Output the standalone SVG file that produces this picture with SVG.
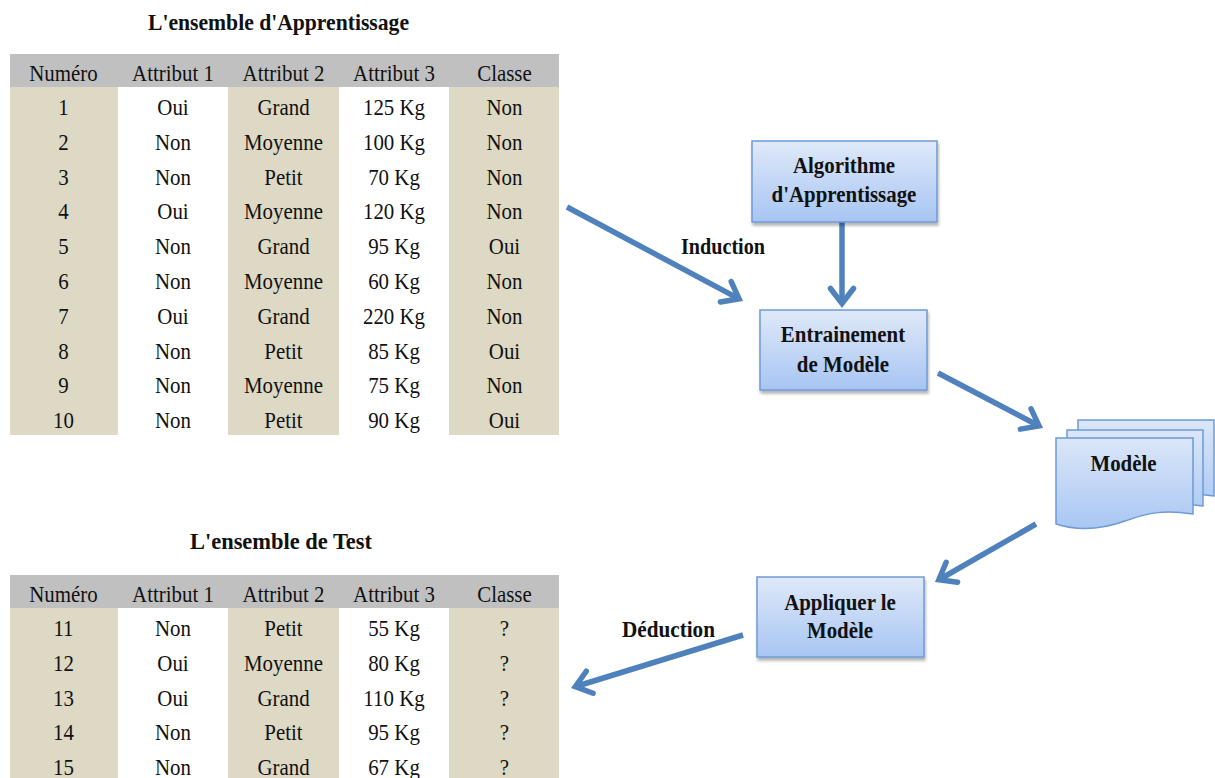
<svg xmlns="http://www.w3.org/2000/svg" width="1215" height="778" viewBox="0 0 1215 778">
  <style>
    .cell { font-family: "Liberation Serif", "Times New Roman", serif; font-size: 23.5px; fill: #111; text-anchor: middle; }
    .bold { font-family: "Liberation Serif", "Times New Roman", serif; font-size: 23.5px; font-weight: bold; fill: #111; text-anchor: middle; }
    .hdr { fill: #c0c0c0; }
    .tan { fill: #ddd9c4; }
    .box { fill: url(#boxFill); stroke: #6c9bd6; stroke-width: 1.5; filter: url(#shadow); }
    .page { fill: url(#pageFill); stroke: #6c9bd6; stroke-width: 1.5; }
    .flow { fill: none; stroke: #4f81bd; stroke-width: 5.5; marker-end: url(#chevron); }
  </style>
  <defs>
    <linearGradient id="boxFill" x1="0" y1="0" x2="0" y2="1">
      <stop offset="0" stop-color="#dfe9f9"/>
      <stop offset="1" stop-color="#a7c5f3"/>
    </linearGradient>
    <linearGradient id="pageFill" x1="0" y1="0" x2="0" y2="1">
      <stop offset="0" stop-color="#dbe6f8"/>
      <stop offset="1" stop-color="#a9c7f3"/>
    </linearGradient>
    <filter id="shadow" x="-10%" y="-10%" width="125%" height="130%">
      <feGaussianBlur in="SourceAlpha" stdDeviation="1.5"/>
      <feOffset dx="1" dy="2.5" result="off"/>
      <feComponentTransfer><feFuncA type="linear" slope="0.3"/></feComponentTransfer>
      <feMerge><feMergeNode/><feMergeNode in="SourceGraphic"/></feMerge>
    </filter>
    <marker id="chevron" markerUnits="userSpaceOnUse" viewBox="-22 -16 30 32" refX="0" refY="0" markerWidth="30" markerHeight="32" orient="auto" overflow="visible">
      <path d="M -14.5 -11.5 L 0.5 0 L -14.5 11.5" fill="none" stroke="#4f81bd" stroke-width="5.5" stroke-linecap="round" stroke-linejoin="miter"/>
    </marker>
  </defs>

  <rect width="1215" height="778" fill="#ffffff"/>

  <!-- Training set table -->
  <g id="training-table">
    <text class="bold" x="278.5" y="30" textLength="261" lengthAdjust="spacingAndGlyphs">L'ensemble d'Apprentissage</text>
    <rect class="hdr" x="10" y="54" width="549" height="33"/>
    <rect class="tan" x="10" y="87" width="108" height="348"/>
    <rect class="tan" x="228" y="87" width="111" height="348"/>
    <rect class="tan" x="449" y="87" width="110" height="348"/>
    <g transform="translate(63.5,0) scale(0.89,1)">
      <text class="cell" x="0" y="81">Numéro</text>
      <text class="cell" x="0" y="115">1</text>
      <text class="cell" x="0" y="149.8">2</text>
      <text class="cell" x="0" y="184.6">3</text>
      <text class="cell" x="0" y="219.4">4</text>
      <text class="cell" x="0" y="254.2">5</text>
      <text class="cell" x="0" y="289">6</text>
      <text class="cell" x="0" y="323.8">7</text>
      <text class="cell" x="0" y="358.6">8</text>
      <text class="cell" x="0" y="393.4">9</text>
      <text class="cell" x="0" y="428.2">10</text>
    </g>
    <g transform="translate(173,0) scale(0.89,1)">
      <text class="cell" x="0" y="81">Attribut 1</text>
      <text class="cell" x="0" y="115">Oui</text>
      <text class="cell" x="0" y="149.8">Non</text>
      <text class="cell" x="0" y="184.6">Non</text>
      <text class="cell" x="0" y="219.4">Oui</text>
      <text class="cell" x="0" y="254.2">Non</text>
      <text class="cell" x="0" y="289">Non</text>
      <text class="cell" x="0" y="323.8">Oui</text>
      <text class="cell" x="0" y="358.6">Non</text>
      <text class="cell" x="0" y="393.4">Non</text>
      <text class="cell" x="0" y="428.2">Non</text>
    </g>
    <g transform="translate(283.5,0) scale(0.89,1)">
      <text class="cell" x="0" y="81">Attribut 2</text>
      <text class="cell" x="0" y="115">Grand</text>
      <text class="cell" x="0" y="149.8">Moyenne</text>
      <text class="cell" x="0" y="184.6">Petit</text>
      <text class="cell" x="0" y="219.4">Moyenne</text>
      <text class="cell" x="0" y="254.2">Grand</text>
      <text class="cell" x="0" y="289">Moyenne</text>
      <text class="cell" x="0" y="323.8">Grand</text>
      <text class="cell" x="0" y="358.6">Petit</text>
      <text class="cell" x="0" y="393.4">Moyenne</text>
      <text class="cell" x="0" y="428.2">Petit</text>
    </g>
    <g transform="translate(394,0) scale(0.89,1)">
      <text class="cell" x="0" y="81">Attribut 3</text>
      <text class="cell" x="0" y="115">125 Kg</text>
      <text class="cell" x="0" y="149.8">100 Kg</text>
      <text class="cell" x="0" y="184.6">70 Kg</text>
      <text class="cell" x="0" y="219.4">120 Kg</text>
      <text class="cell" x="0" y="254.2">95 Kg</text>
      <text class="cell" x="0" y="289">60 Kg</text>
      <text class="cell" x="0" y="323.8">220 Kg</text>
      <text class="cell" x="0" y="358.6">85 Kg</text>
      <text class="cell" x="0" y="393.4">75 Kg</text>
      <text class="cell" x="0" y="428.2">90 Kg</text>
    </g>
    <g transform="translate(504.5,0) scale(0.89,1)">
      <text class="cell" x="0" y="81">Classe</text>
      <text class="cell" x="0" y="115">Non</text>
      <text class="cell" x="0" y="149.8">Non</text>
      <text class="cell" x="0" y="184.6">Non</text>
      <text class="cell" x="0" y="219.4">Non</text>
      <text class="cell" x="0" y="254.2">Oui</text>
      <text class="cell" x="0" y="289">Non</text>
      <text class="cell" x="0" y="323.8">Non</text>
      <text class="cell" x="0" y="358.6">Oui</text>
      <text class="cell" x="0" y="393.4">Non</text>
      <text class="cell" x="0" y="428.2">Oui</text>
    </g>
  </g>

  <!-- Test set table -->
  <g id="test-table">
    <text class="bold" x="281" y="549" textLength="182" lengthAdjust="spacingAndGlyphs">L'ensemble de Test</text>
    <rect class="hdr" x="10" y="575" width="549" height="33"/>
    <rect class="tan" x="10" y="608" width="108" height="170"/>
    <rect class="tan" x="228" y="608" width="111" height="170"/>
    <rect class="tan" x="449" y="608" width="110" height="170"/>
    <g transform="translate(63.5,0) scale(0.89,1)">
      <text class="cell" x="0" y="602">Numéro</text>
      <text class="cell" x="0" y="636">11</text>
      <text class="cell" x="0" y="670.8">12</text>
      <text class="cell" x="0" y="705.6">13</text>
      <text class="cell" x="0" y="740.4">14</text>
      <text class="cell" x="0" y="775.2">15</text>
    </g>
    <g transform="translate(173,0) scale(0.89,1)">
      <text class="cell" x="0" y="602">Attribut 1</text>
      <text class="cell" x="0" y="636">Non</text>
      <text class="cell" x="0" y="670.8">Oui</text>
      <text class="cell" x="0" y="705.6">Oui</text>
      <text class="cell" x="0" y="740.4">Non</text>
      <text class="cell" x="0" y="775.2">Non</text>
    </g>
    <g transform="translate(283.5,0) scale(0.89,1)">
      <text class="cell" x="0" y="602">Attribut 2</text>
      <text class="cell" x="0" y="636">Petit</text>
      <text class="cell" x="0" y="670.8">Moyenne</text>
      <text class="cell" x="0" y="705.6">Grand</text>
      <text class="cell" x="0" y="740.4">Petit</text>
      <text class="cell" x="0" y="775.2">Grand</text>
    </g>
    <g transform="translate(394,0) scale(0.89,1)">
      <text class="cell" x="0" y="602">Attribut 3</text>
      <text class="cell" x="0" y="636">55 Kg</text>
      <text class="cell" x="0" y="670.8">80 Kg</text>
      <text class="cell" x="0" y="705.6">110 Kg</text>
      <text class="cell" x="0" y="740.4">95 Kg</text>
      <text class="cell" x="0" y="775.2">67 Kg</text>
    </g>
    <g transform="translate(504.5,0) scale(0.89,1)">
      <text class="cell" x="0" y="602">Classe</text>
      <text class="cell" x="0" y="636">?</text>
      <text class="cell" x="0" y="670.8">?</text>
      <text class="cell" x="0" y="705.6">?</text>
      <text class="cell" x="0" y="740.4">?</text>
      <text class="cell" x="0" y="775.2">?</text>
    </g>
  </g>

  <!-- Connectors -->
  <g id="connectors">
    <line class="flow" x1="567" y1="207" x2="738.6" y2="298.6"/>
    <line class="flow" x1="842" y1="222" x2="842" y2="303"/>
    <line class="flow" x1="938" y1="373" x2="1038.6" y2="425.7"/>
    <line class="flow" x1="1036" y1="524" x2="939.3" y2="579.5"/>
    <line class="flow" x1="743" y1="635" x2="575.8" y2="686.5"/>
    <text class="bold" x="723" y="254" textLength="84" lengthAdjust="spacingAndGlyphs">Induction</text>
    <text class="bold" x="668.5" y="637" textLength="93" lengthAdjust="spacingAndGlyphs">Déduction</text>
  </g>

  <!-- Process nodes -->
  <g id="node-algorithme">
    <rect class="box" x="752" y="141" width="185" height="81"/>
    <g transform="translate(844,0) scale(0.89,1)">
      <text class="bold" x="0" y="173">Algorithme</text>
      <text class="bold" x="0" y="202">d'Apprentissage</text>
    </g>
  </g>
  <g id="node-entrainement">
    <rect class="box" x="760" y="310" width="167" height="80"/>
    <g transform="translate(843,0) scale(0.89,1)">
      <text class="bold" x="0" y="342">Entrainement</text>
      <text class="bold" x="0" y="372">de Modèle</text>
    </g>
  </g>
  <g id="node-modele">
    <path class="page" d="M1078,420 H1214 V496 C1186,492 1172,494 1147,503 C1122,512 1100,513 1078,506 Z"/>
    <path class="page" d="M1067,430 H1203 V506 C1175,502 1161,504 1136,513 C1111,522 1089,523 1067,516 Z"/>
    <path class="page" d="M1056,438 H1193 V514 C1165,510 1150,512 1125,521 C1100,530 1078,531 1056,524 Z"/>
    <g transform="translate(1123.5,0) scale(0.89,1)">
      <text class="bold" x="0" y="471">Modèle</text>
    </g>
  </g>
  <g id="node-appliquer">
    <rect class="box" x="757" y="577" width="167" height="80"/>
    <g transform="translate(840,0) scale(0.89,1)">
      <text class="bold" x="0" y="610">Appliquer le</text>
      <text class="bold" x="0" y="638">Modèle</text>
    </g>
  </g>
</svg>
